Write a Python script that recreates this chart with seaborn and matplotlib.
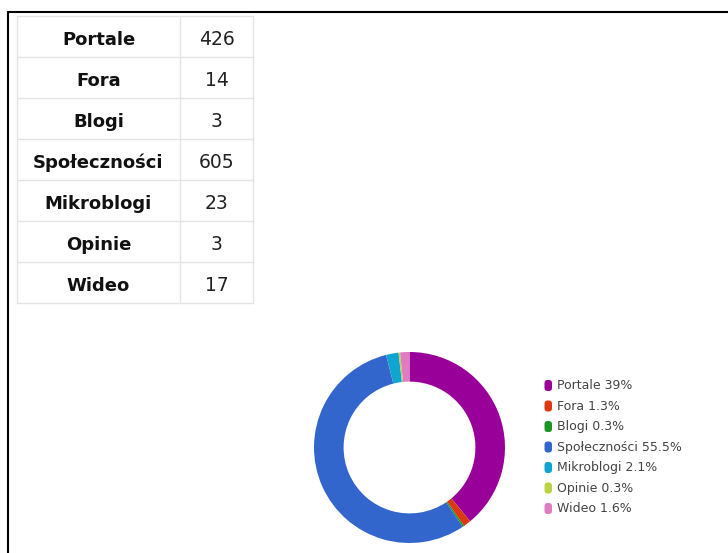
import matplotlib
matplotlib.use("Agg")
import matplotlib.pyplot as plt
from matplotlib.lines import Line2D
from matplotlib.patches import FancyBboxPatch
import seaborn as sns

# Mentions by source type
categories = ["Portale", "Fora", "Blogi", "Społeczności", "Mikroblogi", "Opinie", "Wideo"]
counts = [426, 14, 3, 605, 23, 3, 17]
colors = ["#990099", "#dc3912", "#1a9422", "#3366cc", "#0fa5d0", "#bcd444", "#e07cc0"]

sns.set_theme(style="white")
plt.rcParams["font.family"] = ["DejaVu Sans"]

W, H = 728, 553
fig = plt.figure(figsize=(W / 100, H / 100), dpi=100)
fig.patch.set_facecolor("white")


def rect(x0, y0, x1, y1):
    """Pixel box (top-left origin) to figure fraction rect."""
    return [x0 / W, 1 - y1 / H, (x1 - x0) / W, (y1 - y0) / H]


# Frame lines along the top and left edges
fig.add_artist(Line2D([7.5 / W, 1], [1 - 11.5 / H] * 2, color="black", lw=1.5,
                      transform=fig.transFigure))
fig.add_artist(Line2D([7.5 / W] * 2, [0, 1 - 11.5 / H], color="black", lw=1.5,
                      transform=fig.transFigure))

# ---- Table ----
tab = fig.add_axes(rect(17, 16, 253, 303))
tab.set_xlim(0, 1)
tab.set_ylim(len(categories), 0)
tab.axis("off")
split = (180 - 17) / (253 - 17)
grid_kw = dict(color="#e4e4e4", lw=1.0, clip_on=False)
for r in range(len(categories) + 1):
    tab.plot([0, 1], [r, r], **grid_kw)
for xv in (0, split, 1):
    tab.plot([xv, xv], [0, len(categories)], **grid_kw)
for r, (name, val) in enumerate(zip(categories, counts)):
    tab.text(split / 2, r + 0.58, name, ha="center", va="center",
             fontsize=13, fontweight="bold", color="#111111")
    tab.text((split + 1) / 2, r + 0.58, str(val), ha="center", va="center",
             fontsize=13.5, color="#222222")

# ---- Donut ----
pie_ax = fig.add_axes(rect(314, 352, 505, 543))
pie_ax.pie(counts, colors=colors, startangle=90, counterclock=False,
           radius=1.0, wedgeprops=dict(width=0.31, edgecolor="none"))
pie_ax.set_xlim(-1, 1)
pie_ax.set_ylim(-1, 1)
pie_ax.set_aspect("equal")
pie_ax.axis("off")

# ---- Legend ----
total = sum(counts)


def pct(v):
    s = f"{100 * v / total:.1f}".rstrip("0").rstrip(".")
    return s + "%"


leg = fig.add_axes(rect(530, 370, 728, 520))
leg.set_xlim(530, 728)
leg.set_ylim(370, 520)
leg.invert_yaxis()
leg.axis("off")
y0, step = 385.5, 20.5
for i, (name, val, c) in enumerate(zip(categories, counts, colors)):
    y = y0 + i * step
    leg.add_patch(FancyBboxPatch((544.5, y - 5.5), 7.5, 11.0,
                                 boxstyle="round,pad=0,rounding_size=3.2",
                                 fc=c, ec="none"))
    leg.text(557, y, f"{name} {pct(val)}", ha="left", va="center",
             fontsize=9, color="#444444")

fig.savefig("out.png", dpi=100, facecolor="white")
